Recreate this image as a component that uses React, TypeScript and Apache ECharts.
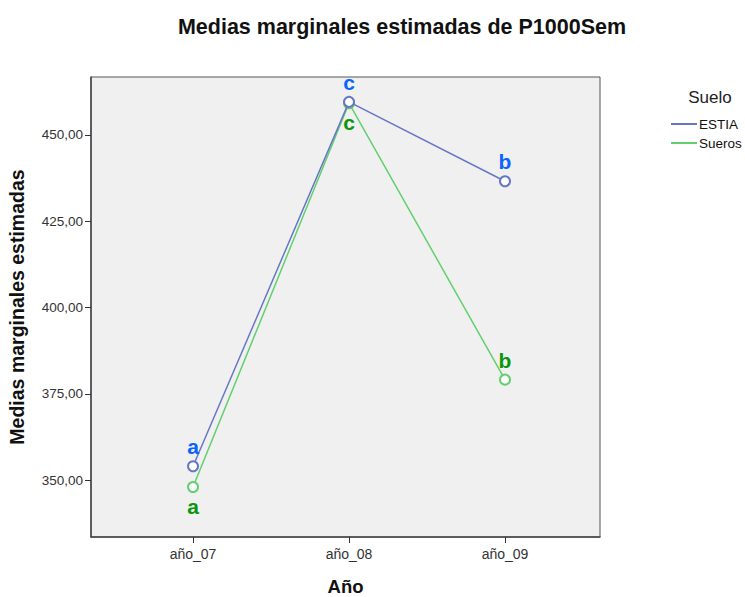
import React, { useEffect, useRef } from "react";
import * as echarts from "echarts";

const categories = ["año_07", "año_08", "año_09"];
const estia = [354.0, 459.6, 436.6];
const sueros = [348.0, 459.2, 379.1];
const estiaLetters = ["a", "c", "b"];
const suerosLetters = ["a", "c", "b"];
const suerosLetterPos = ["bottom", "bottom", "top"];
const yTicks = [350, 375, 400, 425, 450];

const FONT = "Liberation Sans, Arial, sans-serif";

export default function App() {
  const ref = useRef<HTMLDivElement>(null);
  useEffect(() => {
    document.body.style.margin = "0";
    const chart = echarts.init(ref.current!, null, { renderer: "svg" });
    const blue = "#0a64ff";
    const green = "#0a960a";
    const mk = (vals: number[], letters: string[], pos: string[] | null, color: string) =>
      vals.map((v, i) => ({
        value: [i, v],
        label: {
          show: true,
          formatter: letters[i],
          position: pos ? pos[i] : "top",
          distance: 3,
          color,
          fontSize: 21,
          fontWeight: "bold",
          fontFamily: FONT,
        },
      }));
    chart.setOption({
      animation: false,
      textStyle: { fontFamily: FONT },
      title: [
        {
          text: "Medias marginales estimadas de P1000Sem",
          left: 397,
          top: 11,
          textAlign: "center",
          textStyle: { fontSize: 21.5, fontWeight: "bold", color: "#111", fontFamily: FONT },
        },
        {
          text: "Suelo",
          left: 705,
          top: 84,
          textAlign: "center",
          textStyle: { fontSize: 17, fontWeight: "normal", color: "#222", fontFamily: FONT },
        },
      ],
      legend: {
        orient: "vertical",
        left: 666,
        top: 112,
        itemWidth: 26,
        itemHeight: 2,
        itemGap: 5,
        icon: "rect",
        textStyle: { fontSize: 13.5, color: "#111", fontFamily: FONT, padding: [0, 0, 0, -3] },
        data: ["ESTIA", "Sueros"],
      },
      grid: {
        left: 91,
        top: 77,
        width: 509,
        height: 460,
        outerBoundsMode: "none",
        containLabel: false,
        show: true,
        backgroundColor: "#f0f0f0",
        borderColor: "#555",
        borderWidth: 1,
      },
      xAxis: {
        type: "value",
        min: -0.654,
        max: 2.609,
        name: "Año",
        nameLocation: "middle",
        nameGap: 40,
        nameTextStyle: { fontSize: 18.5, fontWeight: "bold", color: "#111", fontFamily: FONT },
        axisLine: { show: true, onZero: false, lineStyle: { color: "#444", width: 1.5 } },
        axisTick: { show: true, customValues: [0, 1, 2], length: 6, lineStyle: { color: "#333" } },
        axisLabel: {
          customValues: [0, 1, 2],
          formatter: (v: number) => categories[Math.round(v)],
          fontSize: 14,
          color: "#333",
          margin: 10,
        },
        splitLine: { show: false },
      },
      yAxis: {
        type: "value",
        min: 333.5,
        max: 466.8,
        name: "Medias marginales estimadas",
        nameLocation: "middle",
        nameGap: 64,
        nameTextStyle: { fontSize: 19.5, fontWeight: "bold", color: "#111", fontFamily: FONT },
        axisLine: { show: true, onZero: false, lineStyle: { color: "#444", width: 1.5 } },
        axisTick: { show: true, customValues: yTicks, length: 6, lineStyle: { color: "#333" } },
        axisLabel: {
          customValues: yTicks,
          formatter: (v: number) => v.toFixed(2).replace(".", ","),
          fontSize: 13.5,
          color: "#333",
          margin: 8,
        },
        splitLine: { show: false },
      },
      series: [
        {
          name: "ESTIA",
          type: "line",
          data: mk(estia, estiaLetters, null, blue),
          symbol: "emptyCircle",
          symbolSize: 10,
          color: "#6777c4",
          lineStyle: { width: 1.5, color: "#6777c4" },
          itemStyle: { color: "#6777c4", borderWidth: 1.5 },
          z: 3,
        },
        {
          name: "Sueros",
          type: "line",
          data: mk(sueros, suerosLetters, suerosLetterPos, green),
          symbol: "emptyCircle",
          symbolSize: 10,
          color: "#62d06e",
          lineStyle: { width: 1.5, color: "#62d06e" },
          itemStyle: { color: "#62d06e", borderWidth: 1.5 },
          z: 2,
        },
      ],
    });
    return () => chart.dispose();
  }, []);
  return <div ref={ref} style={{ width: 745, height: 597 }} />;
}
